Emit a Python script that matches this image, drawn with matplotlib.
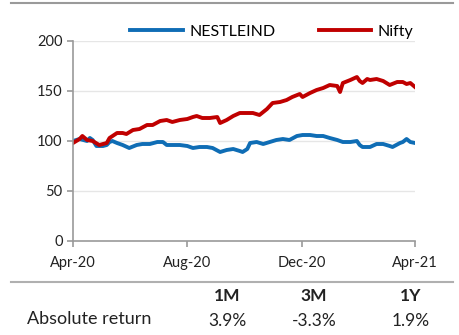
import pandas as pd
import numpy as np

import matplotlib.pyplot as plt
import matplotlib.dates as mdates

plt.rcParams["font.family"] = ["Lato", "DejaVu Sans"]

nifty_dates = [
    "2020-04-01", "2020-04-08", "2020-04-11", "2020-04-16", "2020-04-22",
    "2020-04-29", "2020-05-07", "2020-05-10", "2020-05-18", "2020-05-24",
    "2020-05-28", "2020-06-04", "2020-06-11", "2020-06-19", "2020-06-25",
    "2020-07-03", "2020-07-10", "2020-07-16", "2020-07-24", "2020-08-01",
    "2020-08-07", "2020-08-11", "2020-08-17", "2020-08-25", "2020-09-02",
    "2020-09-05", "2020-09-12", "2020-09-19", "2020-09-26", "2020-10-04",
    "2020-10-10", "2020-10-17", "2020-10-25", "2020-10-31", "2020-11-08",
    "2020-11-15", "2020-11-21", "2020-11-29", "2020-12-02", "2020-12-10",
    "2020-12-17", "2020-12-24", "2020-12-31", "2021-01-08", "2021-01-11",
    "2021-01-14", "2021-01-22", "2021-01-29", "2021-02-01", "2021-02-04",
    "2021-02-09", "2021-02-12", "2021-02-19", "2021-02-26", "2021-03-05",
    "2021-03-13", "2021-03-19", "2021-03-23", "2021-03-27", "2021-04-01",
]
nifty = [
    98, 102, 105, 101, 100,
    96, 98, 103, 108, 108,
    107, 111, 112, 116, 116,
    120, 121, 119, 121, 122,
    124, 125, 123, 123, 124,
    118, 121, 125, 128, 128,
    128, 126, 132, 138, 139,
    141, 144, 147, 144, 148,
    151, 153, 156, 155, 149,
    158, 161, 164, 160, 158,
    162, 161, 162, 160, 156,
    159, 159, 157, 158, 154,
]

nestle_dates = [
    "2020-04-01", "2020-04-08", "2020-04-16", "2020-04-19", "2020-04-22",
    "2020-04-26", "2020-05-03", "2020-05-07", "2020-05-10", "2020-05-13",
    "2020-05-18", "2020-05-24", "2020-05-31", "2020-06-08", "2020-06-14",
    "2020-06-22", "2020-06-30", "2020-07-06", "2020-07-10", "2020-07-16",
    "2020-07-24", "2020-08-01", "2020-08-07", "2020-08-14", "2020-08-22",
    "2020-08-28", "2020-09-05", "2020-09-12", "2020-09-19", "2020-09-26",
    "2020-09-29", "2020-10-04", "2020-10-07", "2020-10-14", "2020-10-21",
    "2020-10-28", "2020-11-04", "2020-11-11", "2020-11-18", "2020-11-26",
    "2020-12-02", "2020-12-10", "2020-12-17", "2020-12-24", "2020-12-31",
    "2021-01-08", "2021-01-14", "2021-01-22", "2021-01-29", "2021-02-01",
    "2021-02-04", "2021-02-12", "2021-02-19", "2021-02-26", "2021-03-05",
    "2021-03-08", "2021-03-16", "2021-03-19", "2021-03-23", "2021-03-27",
    "2021-04-01",
]
nestle = [
    100, 102, 100, 103, 101,
    95, 95, 96, 99, 100,
    98, 96, 93, 96, 97,
    97, 99, 99, 96, 96,
    96, 95, 93, 94, 94,
    93, 89, 91, 92, 90,
    89, 92, 98, 99, 97,
    99, 101, 102, 101, 105,
    106, 106, 105, 105, 103,
    101, 99, 99, 100, 96,
    94, 94, 97, 97, 95,
    94, 98, 99, 102, 99,
    98,
]

xtick_dates = ["2020-04-01", "2020-08-01", "2020-12-01", "2021-04-01"]
xtick_labels = ["Apr-20", "Aug-20", "Dec-20", "Apr-21"]

periods = ["1M", "3M", "1Y"]
abs_return = ["3.9%", "-3.3%", "1.9%"]

blue = "#0F6DB5"
red = "#C00000"
grey = "#9A9A9A"

fig = plt.figure(figsize=(4.59, 3.35), dpi=100)
ax = fig.add_axes([73 / 459, 1 - 241 / 335, 342 / 459, 200 / 335])

ax.plot(pd.to_datetime(nestle_dates), nestle, color=blue, lw=2.8, label="NESTLEIND")
ax.plot(pd.to_datetime(nifty_dates), nifty, color=red, lw=2.8, label="Nifty")

ax.set_ylim(0, 200)
ax.set_yticks([0, 50, 100, 150, 200])
ax.set_xlim(pd.Timestamp(xtick_dates[0]), pd.Timestamp(xtick_dates[-1]))
ax.set_xticks(pd.to_datetime(xtick_dates))
ax.set_xticklabels(xtick_labels)
ax.grid(axis="y", color="#E6E6E6", lw=1.0)
ax.set_axisbelow(True)

for s in ["top", "right"]:
    ax.spines[s].set_visible(False)
for s in ["left", "bottom"]:
    ax.spines[s].set_color(grey)
    ax.spines[s].set_linewidth(1.2)
ax.tick_params(axis="both", colors=grey, length=4, width=1.2, labelcolor="#222222", labelsize=10.5)
ax.tick_params(axis="x", pad=7)

fig.legend(
    loc="center",
    bbox_to_anchor=(272 / 459, 1 - 32 / 335),
    ncol=2,
    frameon=False,
    fontsize=11.5,
    handlelength=3.3,
    handletextpad=0.4,
    columnspacing=2.7,
)

# top rule and table separator
fig.add_artist(plt.Line2D([11 / 459, 453 / 459], [1 - 3 / 335] * 2, color=grey, lw=1.5))
fig.add_artist(plt.Line2D([11 / 459, 453 / 459], [1 - 282 / 335] * 2, color="#B0B0B0", lw=1.5))

col_x = [227, 314, 411]
for x, p, r in zip(col_x, periods, abs_return):
    fig.text(x / 459, 1 - 296 / 335, p, ha="center", va="center", fontsize=12.5, fontweight="bold", color="#222222")
    fig.text(x / 459, 1 - 321 / 335, r, ha="center", va="center", fontsize=12.5, color="#222222")
fig.text(27 / 459, 1 - 319 / 335, "Absolute return", ha="left", va="center", fontsize=13, color="#222222")

fig.savefig("out.png", dpi=100)
